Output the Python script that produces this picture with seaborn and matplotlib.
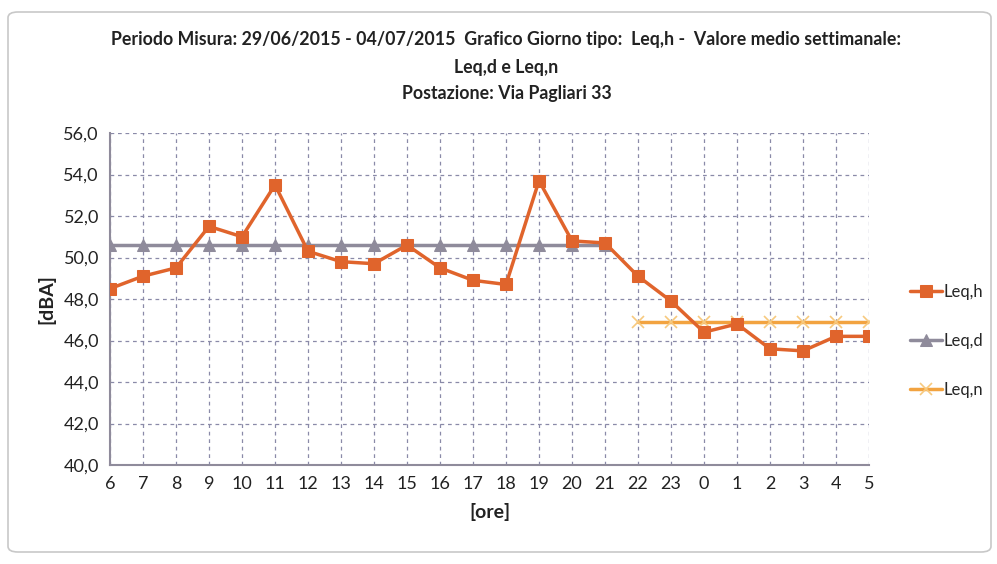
import matplotlib
matplotlib.use("Agg")
import matplotlib.pyplot as plt
import seaborn as sns
import pandas as pd
import numpy as np
from matplotlib.patches import FancyBboxPatch
from matplotlib.ticker import FuncFormatter

hours = ["6","7","8","9","10","11","12","13","14","15","16","17","18","19","20","21","22","23","0","1","2","3","4","5"]
leq_h = [48.5, 49.1, 49.5, 51.5, 51.0, 53.5, 50.3, 49.8, 49.7, 50.6, 49.5, 48.9, 48.7, 53.7, 50.8, 50.7, 49.1, 47.9, 46.4, 46.8, 45.6, 45.5, 46.2, 46.2]
leq_d_hours = hours[:16]
leq_d_value = 50.6
leq_n_hours = hours[16:]
leq_n_value = 46.9

sns.set_theme(style="white")
plt.rcParams['font.family'] = ['Lato', 'DejaVu Sans']

pos = {h: i for i, h in enumerate(hours)}
df_h = pd.DataFrame({"x": [pos[h] for h in hours], "y": leq_h})
df_d = pd.DataFrame({"x": [pos[h] for h in leq_d_hours], "y": [leq_d_value]*len(leq_d_hours)})
df_n = pd.DataFrame({"x": [pos[h] for h in leq_n_hours], "y": [leq_n_value]*len(leq_n_hours)})

fig = plt.figure(figsize=(9.97, 5.64), dpi=100)
ax = fig.add_axes([110/997, 1-465/564, (869-110)/997, (465-133)/564])

c_h = "#E0642C"
c_d = "#8F8B9B"
c_n = "#F2A340"

sns.lineplot(data=df_d, x="x", y="y", ax=ax, color=c_d, lw=2.5, marker="^", markersize=8,
             markeredgecolor=c_d, label="Leq,d", zorder=3)
sns.lineplot(data=df_n, x="x", y="y", ax=ax, color=c_n, lw=2.5, marker="x", markersize=9,
             markeredgecolor="#F7C97E", markeredgewidth=1.2, label="Leq,n", zorder=3)
sns.lineplot(data=df_h, x="x", y="y", ax=ax, color=c_h, lw=2.5, marker="s", markersize=8,
             markeredgecolor=c_h, label="Leq,h", zorder=4)

ax.set_xlim(0, len(hours)-1)
ax.set_ylim(40, 56)
ax.set_xticks(range(len(hours)))
ax.set_xticklabels(hours)
ax.set_yticks(np.arange(40, 56.1, 2))
ax.yaxis.set_major_formatter(FuncFormatter(lambda v, p: f"{v:.1f}".replace(".", ",")))
ax.tick_params(axis="both", labelsize=13, colors="#222222", length=0, pad=8)
ax.grid(True, which="major", linestyle=(0, (3, 3)), color="#8A8AA8", lw=0.9)
for s in ["top", "right"]:
    ax.spines[s].set_visible(False)
for s in ["left", "bottom"]:
    ax.spines[s].set_color("#8F8B9B")
    ax.spines[s].set_linewidth(1.5)

ax.set_xlabel("[ore]", fontsize=14, fontweight="bold", color="#222222", labelpad=8)
ax.set_ylabel("[dBA]", fontsize=14, fontweight="bold", color="#222222", labelpad=6)

handles, labels = ax.get_legend_handles_labels()
order = [labels.index(l) for l in ["Leq,h", "Leq,d", "Leq,n"]]
ax.legend([handles[i] for i in order], [labels[i] for i in order], loc="center left",
          bbox_to_anchor=(910/997, 1-341/564), bbox_transform=fig.transFigure,
          frameon=False, fontsize=12, handlelength=1.9, borderpad=0, borderaxespad=0,
          labelspacing=2.0, handletextpad=0.1)

title_kw = dict(ha="center", va="center", fontsize=12.8, fontweight="bold", color="#222222")
fig.text(0.508, 1-40/564, "Periodo Misura: 29/06/2015 - 04/07/2015  Grafico Giorno tipo:  Leq,h -  Valore medio settimanale:", **title_kw)
fig.text(0.508, 1-67/564, "Leq,d e Leq,n", **title_kw)
fig.text(0.508, 1-94/564, "Postazione: Via Pagliari 33", **title_kw)

border = FancyBboxPatch((8/997, 12/564), 1-14/997, 1-24/564, boxstyle="round,pad=0,rounding_size=0.01",
                        transform=fig.transFigure, fill=False, edgecolor="#C8C8C8", lw=1.2)
fig.patches.append(border)

fig.savefig("out.png", dpi=100)
